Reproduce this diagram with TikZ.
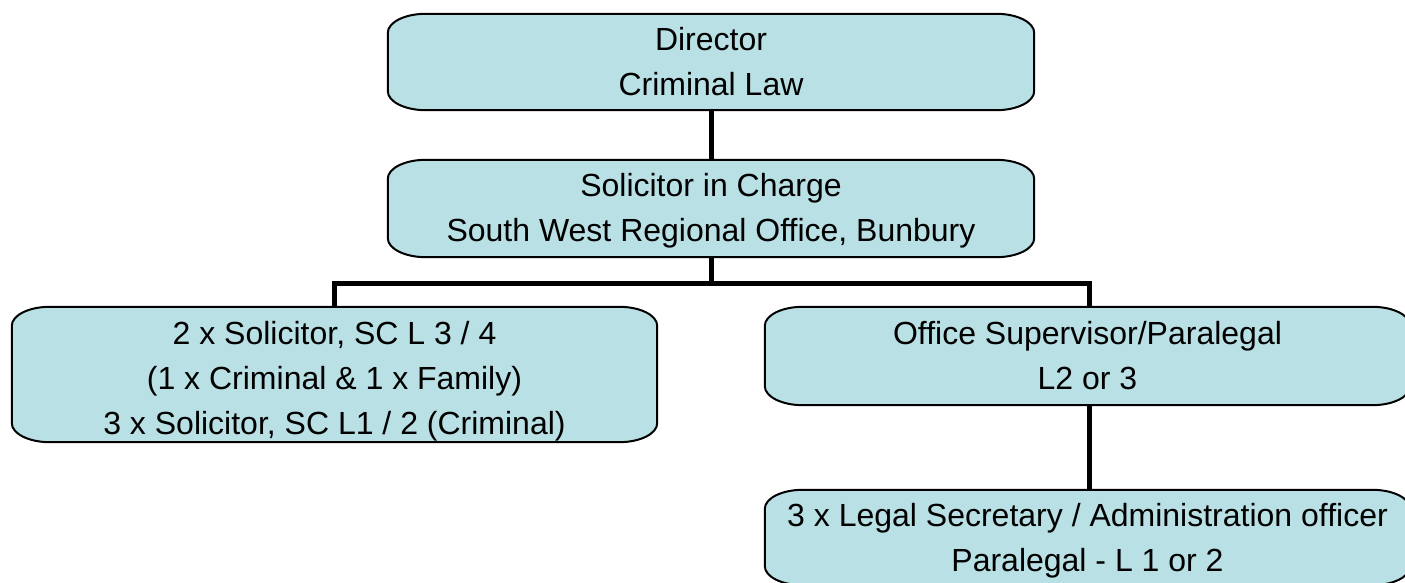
\documentclass[tikz,border=0pt]{standalone}
\usepackage{fontspec}
\setmainfont{Liberation Sans}
\usetikzlibrary{backgrounds}
\definecolor{boxblue}{RGB}{185,224,228}
\newcommand\dropby[1]{\rule{0pt}{\dimexpr 23pt+#1\relax}}
\tikzset{
  orgbox/.style={rectangle, inner sep=0pt, align=center, font=\fontsize{32}{45}\selectfont},
  outline/.style={draw=black, line width=2pt, fill=boxblue},
  link/.style={draw=black, line width=5pt},
}
\newcommand\eoutline[1]{%
  \path[outline] ([xshift=38pt]#1.north west) -- ([xshift=-38pt]#1.north east)
    arc[start angle=90,end angle=0,x radius=38pt,y radius=19pt]
    -- ([yshift=19pt]#1.south east)
    arc[start angle=0,end angle=-90,x radius=38pt,y radius=19pt]
    -- ([xshift=38pt]#1.south west)
    arc[start angle=270,end angle=180,x radius=38pt,y radius=19pt]
    -- ([yshift=-19pt]#1.north west)
    arc[start angle=180,end angle=90,x radius=38pt,y radius=19pt] -- cycle;}
\begin{document}
\begin{tikzpicture}[x=1pt,y=1pt]
\useasboundingbox (0,0) rectangle (1405,583);
\clip (0,0) rectangle (1405,583);
\node[orgbox, minimum width=646pt, minimum height=96pt] (dir) at (711,521) {Director\\Criminal Law};
\node[orgbox, minimum width=646pt, minimum height=97pt] (sic) at (711,374.5) {\dropby{4pt}Solicitor in Charge\\South West Regional Office, Bunbury};
\node[orgbox, minimum width=645pt, minimum height=135pt] (left) at (334.5,208.5) {\dropby{14pt}2 x Solicitor, SC L 3 / 4\\(1 x Criminal \& 1 x Family)\\3 x Solicitor, SC L1 / 2 (Criminal)};
\node[orgbox, minimum width=645pt, minimum height=98pt] (right) at (1087.5,227) {Office Supervisor/Paralegal\\L2 or 3};
\node[orgbox, minimum width=645pt, minimum height=95pt] (bot) at (1087.5,45.5) {\dropby{6pt}3 x Legal Secretary / Administration officer\\Paralegal - L 1 or 2};
\coordinate (bar) at (711,299);
\begin{pgfonlayer}{background}
\draw[link] (dir.south) -- (sic.north);
\draw[link] (sic.south) -- (bar);
\draw[link] (left.north -| 334,0) |- (bar) -| (right.north -| 1089,0);
\draw[link] (right.south -| 1089,0) -- (bot.north -| 1089,0);
\eoutline{dir}
\eoutline{sic}
\eoutline{left}
\eoutline{right}
\eoutline{bot}
\end{pgfonlayer}
\end{tikzpicture}
\end{document}
